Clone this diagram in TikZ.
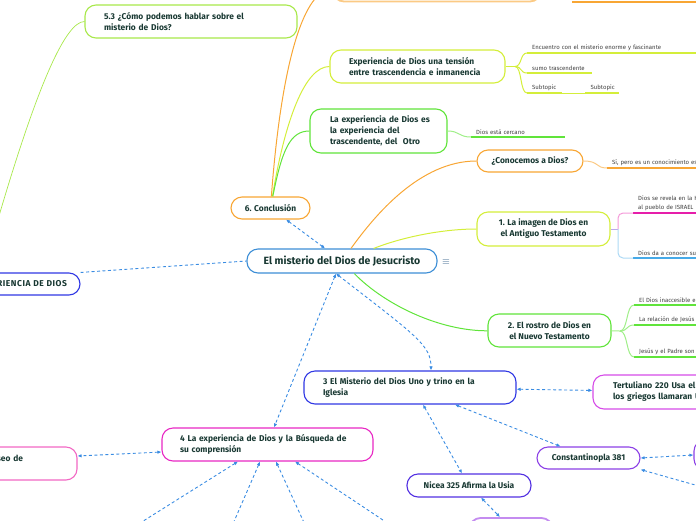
\documentclass[tikz,border=0pt]{standalone}
\usepackage{fontspec}
\setmainfont{Fira Sans}
\usetikzlibrary{arrows.meta,positioning}

\definecolor{ink}{RGB}{24,56,50}
\definecolor{centralblue}{RGB}{60,142,214}
\definecolor{linkblue}{RGB}{58,140,226}
\definecolor{orng}{RGB}{248,166,52}
\definecolor{yg}{RGB}{212,238,58}
\definecolor{grn}{RGB}{96,228,58}
\definecolor{lgrn}{RGB}{168,232,74}
\definecolor{indigo}{RGB}{48,56,228}
\definecolor{nicviolet}{RGB}{82,48,226}
\definecolor{mgnt}{RGB}{232,40,196}
\definecolor{rosa}{RGB}{242,104,196}
\definecolor{orchid}{RGB}{214,76,232}
\definecolor{purp}{RGB}{140,64,230}
\definecolor{lav}{RGB}{196,140,240}
\definecolor{pinkl}{RGB}{230,30,170}
\definecolor{skyl}{RGB}{70,170,232}
\definecolor{lilac}{RGB}{190,170,235}

\begin{document}
\begin{tikzpicture}[x=1pt, y=-1pt,
  topic/.style={rectangle, draw=#1, fill=white, line width=1.1pt,
    rounded corners=11pt, text=ink, inner sep=0pt, align=center,
    font=\fontsize{8.4}{11}\selectfont\bfseries},
  sub/.style={anchor=south west, inner xsep=5pt, inner ysep=2.5pt,
    text=black!75, align=left, font=\fontsize{6}{9}\selectfont,
    append after command={\pgfextra{\draw[line width=1.6pt, draw=#1]
      (\tikzlastnode.south west) -- (\tikzlastnode.south east);}}},
  branch/.style={draw=#1, line width=1pt},
  link/.style={draw=linkblue, line width=0.9pt, dash pattern=on 3pt off 2.5pt,
    {Latex[length=4pt,width=3.5pt]}-{Latex[length=4pt,width=3.5pt]}}
]
  \useasboundingbox (0,0) rectangle (696,520);
  \clip (0,0) rectangle (696,520);

  % central topic
  \node[topic=centralblue, minimum width=190pt, minimum height=24pt,
    font=\fontsize{10.5}{12}\selectfont\bfseries] (central) at (342,261)
    {El misterio del Dios de Jesucristo};
  \node[text=centralblue!60!black, font=\fontsize{10}{10}\selectfont]
    (menu) at (446,262) {$\equiv$};

  % upper branches
  \node[topic=orng!60, line width=1.8pt, minimum width=208pt,
    minimum height=33pt] (topn) at (437,-15) {};
  \node[topic=orng, minimum width=79pt, minimum height=22pt]
    (concl) at (270.5,208) {6. Conclusión};
  \node[topic=lgrn, minimum width=212pt, minimum height=33pt,
    text width=174pt, align=left] (q53) at (191,21.5)
    {5.3 ¿Cómo podemos hablar sobre el\\misterio de Dios?};
  \node[topic=yg, minimum width=175pt, minimum height=33pt,
    text width=137pt, align=left] (tension) at (417.5,66.5)
    {Experiencia de Dios una tensión\\entre trascendencia e inmanencia};
  \node[topic=grn, minimum width=137pt, minimum height=44pt,
    text width=97pt, align=left] (otro) at (378.5,131)
    {\mbox{La experiencia de Dios es}\\la experiencia del\\trascendente, del\ \ Otro};
  \node[topic=orng, minimum width=106pt, minimum height=22pt]
    (conoc) at (530,161) {¿Conocemos a Dios?};
  \node[topic=yg, minimum width=133pt, minimum height=34pt]
    (antiguo) at (543.5,229) {1. La imagen de Dios en\\el Antiguo Testamento};
  \node[topic=grn, minimum width=123pt, minimum height=33pt]
    (nuevo) at (549.5,330.5) {2. El rostro de Dios en\\el Nuevo Testamento};

  % lower branches
  \node[topic=indigo, minimum width=160pt, minimum height=22pt,
    text width=134pt, align=right,
    font=\fontsize{8.5}{9}\selectfont\bfseries\addfontfeature{LetterSpace=6}]
    (riencia) at (0,284) {EXPERIENCIA DE DIOS};
  \node[topic=indigo, minimum width=212pt, minimum height=33pt,
    text width=174pt, align=left] (trino) at (410,387.5)
    {3 El Misterio del Dios Uno y trino en la\\Iglesia};
  \node[topic=orchid, minimum width=200pt, minimum height=34pt,
    text width=160pt, align=left] (tert) at (693,392)
    {Tertuliano 220 Usa el\\los griegos llamaran U};
  \node[topic=purp, minimum width=103pt, minimum height=22pt]
    (const) at (588.5,458) {Constantinopla 381};
  \node[topic=purp, minimum width=100pt, minimum height=30pt]
    (concr) at (744,455) {};
  \node[topic=nicviolet, minimum width=124pt, minimum height=23pt]
    (nicea) at (469,485.5) {Nicea 325 Afirma la Usia};
  \node[topic=lav, line width=1.8pt, minimum width=83pt,
    minimum height=34pt] (lavn) at (511,535) {};
  \node[topic=mgnt, minimum width=211pt, minimum height=33pt,
    text width=175pt, align=left] (sec4) at (267.5,444.5)
    {4 La experiencia de Dios y la Búsqueda de\\su comprensión};
  \node[topic=rosa, minimum width=160pt, minimum height=33pt,
    text width=52pt, align=right] (deseo) at (-3,463.5)
    {Deseo de\\\mbox{}};

  % subtopics
  \node[sub=yg, text width=183pt] (enc) at (527,53)
    {Encuentro con el misterio enorme y fascinante};
  \node[sub=yg, text width=55pt] (sumo) at (527,73) {sumo trascendente};
  \node[sub=yg, text width=25pt] (subA) at (527,93) {Subtopic};
  \node[sub=yg, text width=23pt, right=23pt of subA.south east,
    anchor=south west] (subB) {Subtopic};
  \node[sub=grn, text width=84pt] (cerca) at (471,137)
    {Dios está cercano};
  \node[sub=orng, text width=110pt] (sipero) at (607,168)
    {Sí, pero es un conocimiento es};
  \node[sub=orng, text width=140pt] (topsub) at (572,2) {};
  \node[sub=pinkl, text width=90pt] (revela) at (633,213)
    {Dios se revela en la H\\al pueblo de ISRAEL};
  \node[sub=skyl, text width=90pt] (conocer) at (633,258)
    {Dios da a conocer su};
  \node[sub=grn, text width=90pt] (inacc) at (634,305)
    {El Dios inaccesible e};
  \node[sub=grn, text width=90pt] (relac) at (634,325)
    {La relación de Jesús};
  \node[sub=grn, text width=90pt] (padre) at (634,357)
    {Jesús y el Padre son};

  \coordinate (tfork) at (515,66.5);
  \coordinate (afork) at (618,229);
  \coordinate (nfork) at (620,331);
  \coordinate (offl) at (-8,240);

  % solid branches
  \draw[branch=orng] (concl) .. controls (280,80) and (300,-10) .. (topn);
  \draw[branch=yg] (concl) .. controls (285,120) and (305,66.5) .. (tension);
  \draw[branch=grn] (concl) .. controls (282,150) and (290,131) .. (otro);
  \draw[branch=lgrn, line width=0.7pt] (q53) .. controls (65,21.5) and (35,90) .. (offl);
  \draw[branch=orng] (central) .. controls (375,215) and (420,161) .. (conoc);
  \draw[branch=yg] (central) .. controls (400,238) and (440,229) .. (antiguo);
  \draw[branch=grn] (central) .. controls (385,305) and (440,331) .. (nuevo);

  \draw[branch=yg] (tension) -- (tfork);
  \foreach \n in {enc,sumo,subA}
    \draw[branch=yg] (tfork) .. controls +(7,0) and +(-7,0) .. (\n.south west);
  \draw[branch=yg, line width=0.6pt] (subA.south east) -- (subB.south west);
  \draw[branch=grn!60] (otro) .. controls (460,131) and (458,137) .. (cerca.south west);
  \draw[branch=orng!60] (conoc.east) .. controls +(16,0) and +(-12,0) .. (sipero.south west);
  \draw[branch=lilac] (antiguo) -- (afork);
  \draw[branch=pinkl!45, rounded corners=5pt] (afork) |- (revela.south west);
  \draw[branch=skyl!45, rounded corners=5pt] (afork) |- (conocer.south west);
  \draw[branch=grn!60] (nuevo) -- (nfork);
  \foreach \n in {inacc,relac,padre}
    \draw[branch=grn!60] (nfork) .. controls +(8,0) and +(-8,0) .. (\n.south west);

  % dashed links
  \coordinate (d1) at (113,540);
  \coordinate (d2) at (226,540);
  \coordinate (d3) at (312,540);
  \coordinate (d4) at (413,540);
  \coordinate (offr) at (720,492);
  \draw[link] (concl) -- (central);
  \draw[link, -] (riencia.north east) -- (central.west);
  \draw[link] ([xshift=-6pt]central.south) -- ([xshift=6.5pt]sec4.north);
  \draw[link] ([xshift=-6pt]central.south) .. controls (415,335) and (431,345)
    .. ([xshift=21pt]trino.north);
  \draw[link] (trino) -- (tert);
  \draw[link] ([xshift=13pt]trino.south) -- ([xshift=-7pt]nicea.north);
  \draw[link] ([xshift=45pt]trino.south) -- ([xshift=-28pt]const.north);
  \draw[link] (const.east) -- (concr.west);
  \draw[link] (const.south east) -- (offr);
  \draw[link] ([xshift=12pt]nicea.south) -- ([xshift=-11pt]lavn.north);
  \draw[link] ([yshift=-7.5pt]sec4.west) -- ([yshift=7.5pt]deseo.east);
  \draw[link] ([xshift=-29.5pt]sec4.south) -- (d1);
  \draw[link] ([xshift=-7.5pt]sec4.south) -- (d2);
  \draw[link] ([xshift=8.5pt]sec4.south) -- (d3);
  \draw[link] ([xshift=27.5pt]sec4.south) -- (d4);
\end{tikzpicture}
\end{document}
